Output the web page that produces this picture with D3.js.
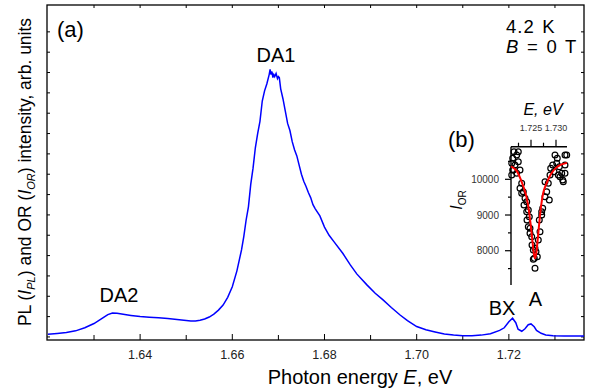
<!DOCTYPE html>
<html><head><meta charset="utf-8">
<script src="https://cdn.jsdelivr.net/npm/d3@7"></script>
<style>
body{margin:0;background:#fff}
text{font-family:"Liberation Sans", Arial, sans-serif}
</style>
</head><body>
<svg id="c" width="596" height="390"></svg>
<script>
// ---- Main PL spectrum (photon energy, eV ; intensity, arb. units) ----
const plEnergy = [1.620,1.622,1.624,1.626,1.628,1.630,1.632,1.633,1.634,1.635,1.636,1.638,1.640,1.642,1.644,1.646,1.648,1.650,1.651,1.652,1.653,1.654,1.655,1.656,1.657,1.658,1.659,1.660,1.661,1.662,1.6625,1.663,1.6635,1.664,1.6645,1.665,1.6655,1.666,1.6665,1.667,1.6675,1.668,1.6682,1.6684,1.6686,1.6688,1.669,1.6692,1.6695,1.6698,1.670,1.6702,1.6705,1.671,1.6715,1.672,1.6725,1.673,1.6735,1.674,1.6745,1.675,1.6755,1.676,1.6765,1.677,1.6775,1.678,1.679,1.680,1.681,1.682,1.684,1.6856,1.687,1.6892,1.691,1.6927,1.6945,1.6964,1.698,1.700,1.702,1.704,1.706,1.708,1.710,1.712,1.714,1.716,1.718,1.719,1.720,1.7208,1.7215,1.722,1.7228,1.7235,1.7242,1.7248,1.7255,1.726,1.727,1.728,1.7296,1.732,1.734,1.7363];
const plIntensity = [0.13,0.17,0.22,0.30,0.45,0.66,0.95,1.10,1.18,1.17,1.13,1.06,1.00,0.97,0.94,0.91,0.86,0.81,0.79,0.79,0.82,0.88,0.98,1.12,1.32,1.57,1.95,2.47,3.25,4.28,4.95,5.75,6.40,7.50,8.30,9.30,10.0,10.6,11.6,12.1,12.45,12.9,13.15,12.9,13.05,12.75,12.9,12.8,12.95,12.7,12.8,12.75,12.2,11.7,11.1,10.5,10.15,9.6,9.2,8.9,8.45,8.0,7.65,7.4,7.1,6.85,6.5,6.3,5.95,5.4,5.0,4.7,4.1,3.54,3.1,2.56,2.15,1.82,1.45,1.08,0.80,0.51,0.35,0.24,0.14,0.09,0.06,0.06,0.09,0.16,0.32,0.45,0.75,0.92,0.70,0.38,0.28,0.40,0.60,0.64,0.50,0.32,0.18,0.10,0.06,0.05,0.05,0.05];

// ---- Inset (b): OR intensity ----
const orEnergy = [1.72114,1.72114,1.72134,1.72134,1.7216,1.7218,1.72214,1.72246,1.72246,1.72146,1.72214,1.7228,1.72314,1.7228,1.72346,1.72314,1.7238,1.72414,1.72446,1.72414,1.72466,1.72446,1.7248,1.7248,1.72514,1.72546,1.7258,1.726,1.72566,1.7258,1.72646,1.7268,1.72666,1.72714,1.72734,1.72714,1.7278,1.72814,1.72866,1.7278,1.72846,1.7288,1.72894,1.72934,1.7296,1.7298,1.73026,1.73066,1.73114,1.73134,1.73146,1.7318,1.7318,1.7308,1.73014,1.73046,1.73214,1.7318,1.7252,1.72626,1.72546,1.7242,1.7236];
const orIntensity = [10448,10120,10588,10260,10773,10400,10680,10773,10493,10260,10168,10260,9888,9748,9653,9608,9468,9373,9140,9092,8952,8672,8627,8487,8392,8020,8067,7972,7787,7507,8300,8532,8860,9092,9188,9000,9513,9653,9420,9933,9888,10120,10308,10400,10213,10681,10588,10353,10168,9980,9933,10681,10400,10073,10448,10120,10681,10168,8160,7832,7759,8860,9280];
const fitEnergy = [1.7210,1.7220,1.7230,1.7240,1.7245,1.7250,1.7253,1.7256,1.7258,1.7260,1.7263,1.7266,1.7270,1.7275,1.7280,1.7290,1.7300,1.7310,1.7322];
const fitIntensity = [10360,10260,9980,9560,9200,8650,8250,7900,7790,7880,8250,8700,9233,9650,9850,10150,10320,10410,10460];

// ---- Tick labels ----
const xMajor = [1.64,1.66,1.68,1.70,1.72];
const xMinor = [1.63,1.65,1.67,1.69,1.71,1.73];
const yTicks = d3.range(0,16);
const insetXMajor = [1.725,1.730];
const insetXMinor = [1.7225,1.7275];
const insetYMajor = [8000,9000,10000];
const insetYMinor = [7500,8500,9500,10500];

const svg = d3.select("#c");
const L=47,R=584,T=5,B=340;
const x = d3.scaleLinear().domain([1.6198,1.7363]).range([L,R]);
const y = d3.scaleLinear().domain([-0.15,16.32]).range([B,T]);

// frame
svg.append("rect").attr("x",L).attr("y",T).attr("width",R-L).attr("height",B-T)
  .attr("fill","none").attr("stroke","#000").attr("stroke-width",1.3);

const tk = svg.append("g").attr("stroke","#000").attr("stroke-width",1);
xMajor.concat(xMinor).forEach(v=>{
  const major = xMajor.includes(v);
  tk.append("line").attr("x1",x(v)).attr("x2",x(v)).attr("y1",B).attr("y2",B-(major?6:5));
  tk.append("line").attr("x1",x(v)).attr("x2",x(v)).attr("y1",T).attr("y2",T+3);
});
yTicks.forEach(v=>{
  tk.append("line").attr("x1",L).attr("x2",L+3).attr("y1",y(v)).attr("y2",y(v));
  tk.append("line").attr("x1",R).attr("x2",R-3).attr("y1",y(v)).attr("y2",y(v));
});
svg.append("g").selectAll("text").data(xMajor).join("text")
  .attr("x",d=>x(d)).attr("y",359).attr("text-anchor","middle")
  .attr("font-size",12.5).attr("fill","#222").text(d=>d.toFixed(2));

// PL curve
const plData = plEnergy.map((e,i)=>[e,plIntensity[i]]);
svg.append("path").datum(plData)
  .attr("d", d3.line().x(d=>x(d[0])).y(d=>y(d[1])))
  .attr("fill","none").attr("stroke","#0000ff").attr("stroke-width",1.5);

// axis labels
const xl = svg.append("text").attr("x",360).attr("y",384).attr("text-anchor","middle").attr("font-size",20);
xl.append("tspan").text("Photon energy ");
xl.append("tspan").attr("font-style","italic").text("E");
xl.append("tspan").text(", eV");

const yl = svg.append("text").attr("transform","translate(31,172) rotate(-90)").attr("text-anchor","middle").attr("font-size",17.5);
yl.append("tspan").text("PL (");
yl.append("tspan").attr("font-style","italic").text("I");
yl.append("tspan").attr("font-size",11).attr("font-style","italic").attr("dy",4).text("PL");
yl.append("tspan").attr("dy",-4).text(") and OR (");
yl.append("tspan").attr("font-style","italic").text("I");
yl.append("tspan").attr("font-size",11).attr("font-style","italic").attr("dy",4).text("OR");
yl.append("tspan").attr("dy",-4).text(") intensity, arb. units");

// annotations
const ann = (t,xx,yy,fs,anchor)=>svg.append("text").attr("x",xx).attr("y",yy).attr("font-size",fs).attr("text-anchor",anchor||"start").text(t);
ann("(a)",57,37,22);
ann("DA1",276,62,20,"middle");
ann("DA2",119,302,20,"middle");
ann("BX",502,315,20,"middle");
ann("A",535.5,306,20,"middle");
ann("4.2 K",506,33,18.5).attr("letter-spacing",1).attr("word-spacing",1.5);
const bt = svg.append("text").attr("x",506).attr("y",53).attr("font-size",18.5).attr("letter-spacing",1).attr("word-spacing",1.5);
bt.append("tspan").attr("font-style","italic").text("B");
bt.append("tspan").text(" = 0 T");
ann("(b)",448,147,22);

// ---- inset ----
const ix = d3.scaleLinear().domain([1.721,1.7322]).range([511,567]);
const iy = d3.scaleLinear().domain([7040,10913]).range([285,146.7]);
const ig = svg.append("g");
ig.append("line").attr("x1",511).attr("x2",511).attr("y1",146.7).attr("y2",285).attr("stroke","#000").attr("stroke-width",1.4);
ig.append("line").attr("x1",511).attr("x2",567).attr("y1",146.7).attr("y2",146.7).attr("stroke","#000").attr("stroke-width",1.4);
insetXMajor.concat(insetXMinor).forEach(v=>{
  const major = insetXMajor.includes(v);
  ig.append("line").attr("x1",ix(v)).attr("x2",ix(v)).attr("y1",146.7).attr("y2",146.7-(major?7:4)).attr("stroke","#000").attr("stroke-width",1.2);
});
insetYMajor.concat(insetYMinor).forEach(v=>{
  const major = insetYMajor.includes(v);
  ig.append("line").attr("x1",511).attr("x2",511-(major?6:3)).attr("y1",iy(v)).attr("y2",iy(v)).attr("stroke","#000").attr("stroke-width",1.2);
});
ig.selectAll("text.xt").data(insetXMajor).join("text").attr("class","xt")
  .attr("x",d=>ix(d)).attr("y",131).attr("text-anchor","middle").attr("font-size",9).attr("fill","#333").text(d=>d.toFixed(3));
ig.selectAll("text.yt").data(insetYMajor).join("text").attr("class","yt")
  .attr("x",499).attr("y",d=>iy(d)+3.5).attr("text-anchor","end").attr("font-size",10).attr("fill","#333").text(d=>d);
const ixl = ig.append("text").attr("x",543).attr("y",115).attr("text-anchor","middle").attr("font-size",16).attr("font-style","italic");
ixl.text("E, eV");
const iyl = ig.append("text").attr("transform","translate(462,200) rotate(-90)").attr("text-anchor","middle").attr("font-size",16);
iyl.append("tspan").attr("font-style","italic").text("I");
iyl.append("tspan").attr("font-size",10).attr("dy",4).text("OR");

ig.append("g").selectAll("circle").data(orEnergy.map((e,i)=>[e,orIntensity[i]])).join("circle")
  .attr("cx",d=>ix(d[0])).attr("cy",d=>iy(d[1])).attr("r",2.9)
  .attr("fill","none").attr("stroke","#000").attr("stroke-width",1.2);
ig.append("path").datum(fitEnergy.map((e,i)=>[e,fitIntensity[i]]))
  .attr("d", d3.line().x(d=>ix(d[0])).y(d=>iy(d[1])).curve(d3.curveCatmullRom))
  .attr("fill","none").attr("stroke","#ff0000").attr("stroke-width",2);
</script>
</body></html>
